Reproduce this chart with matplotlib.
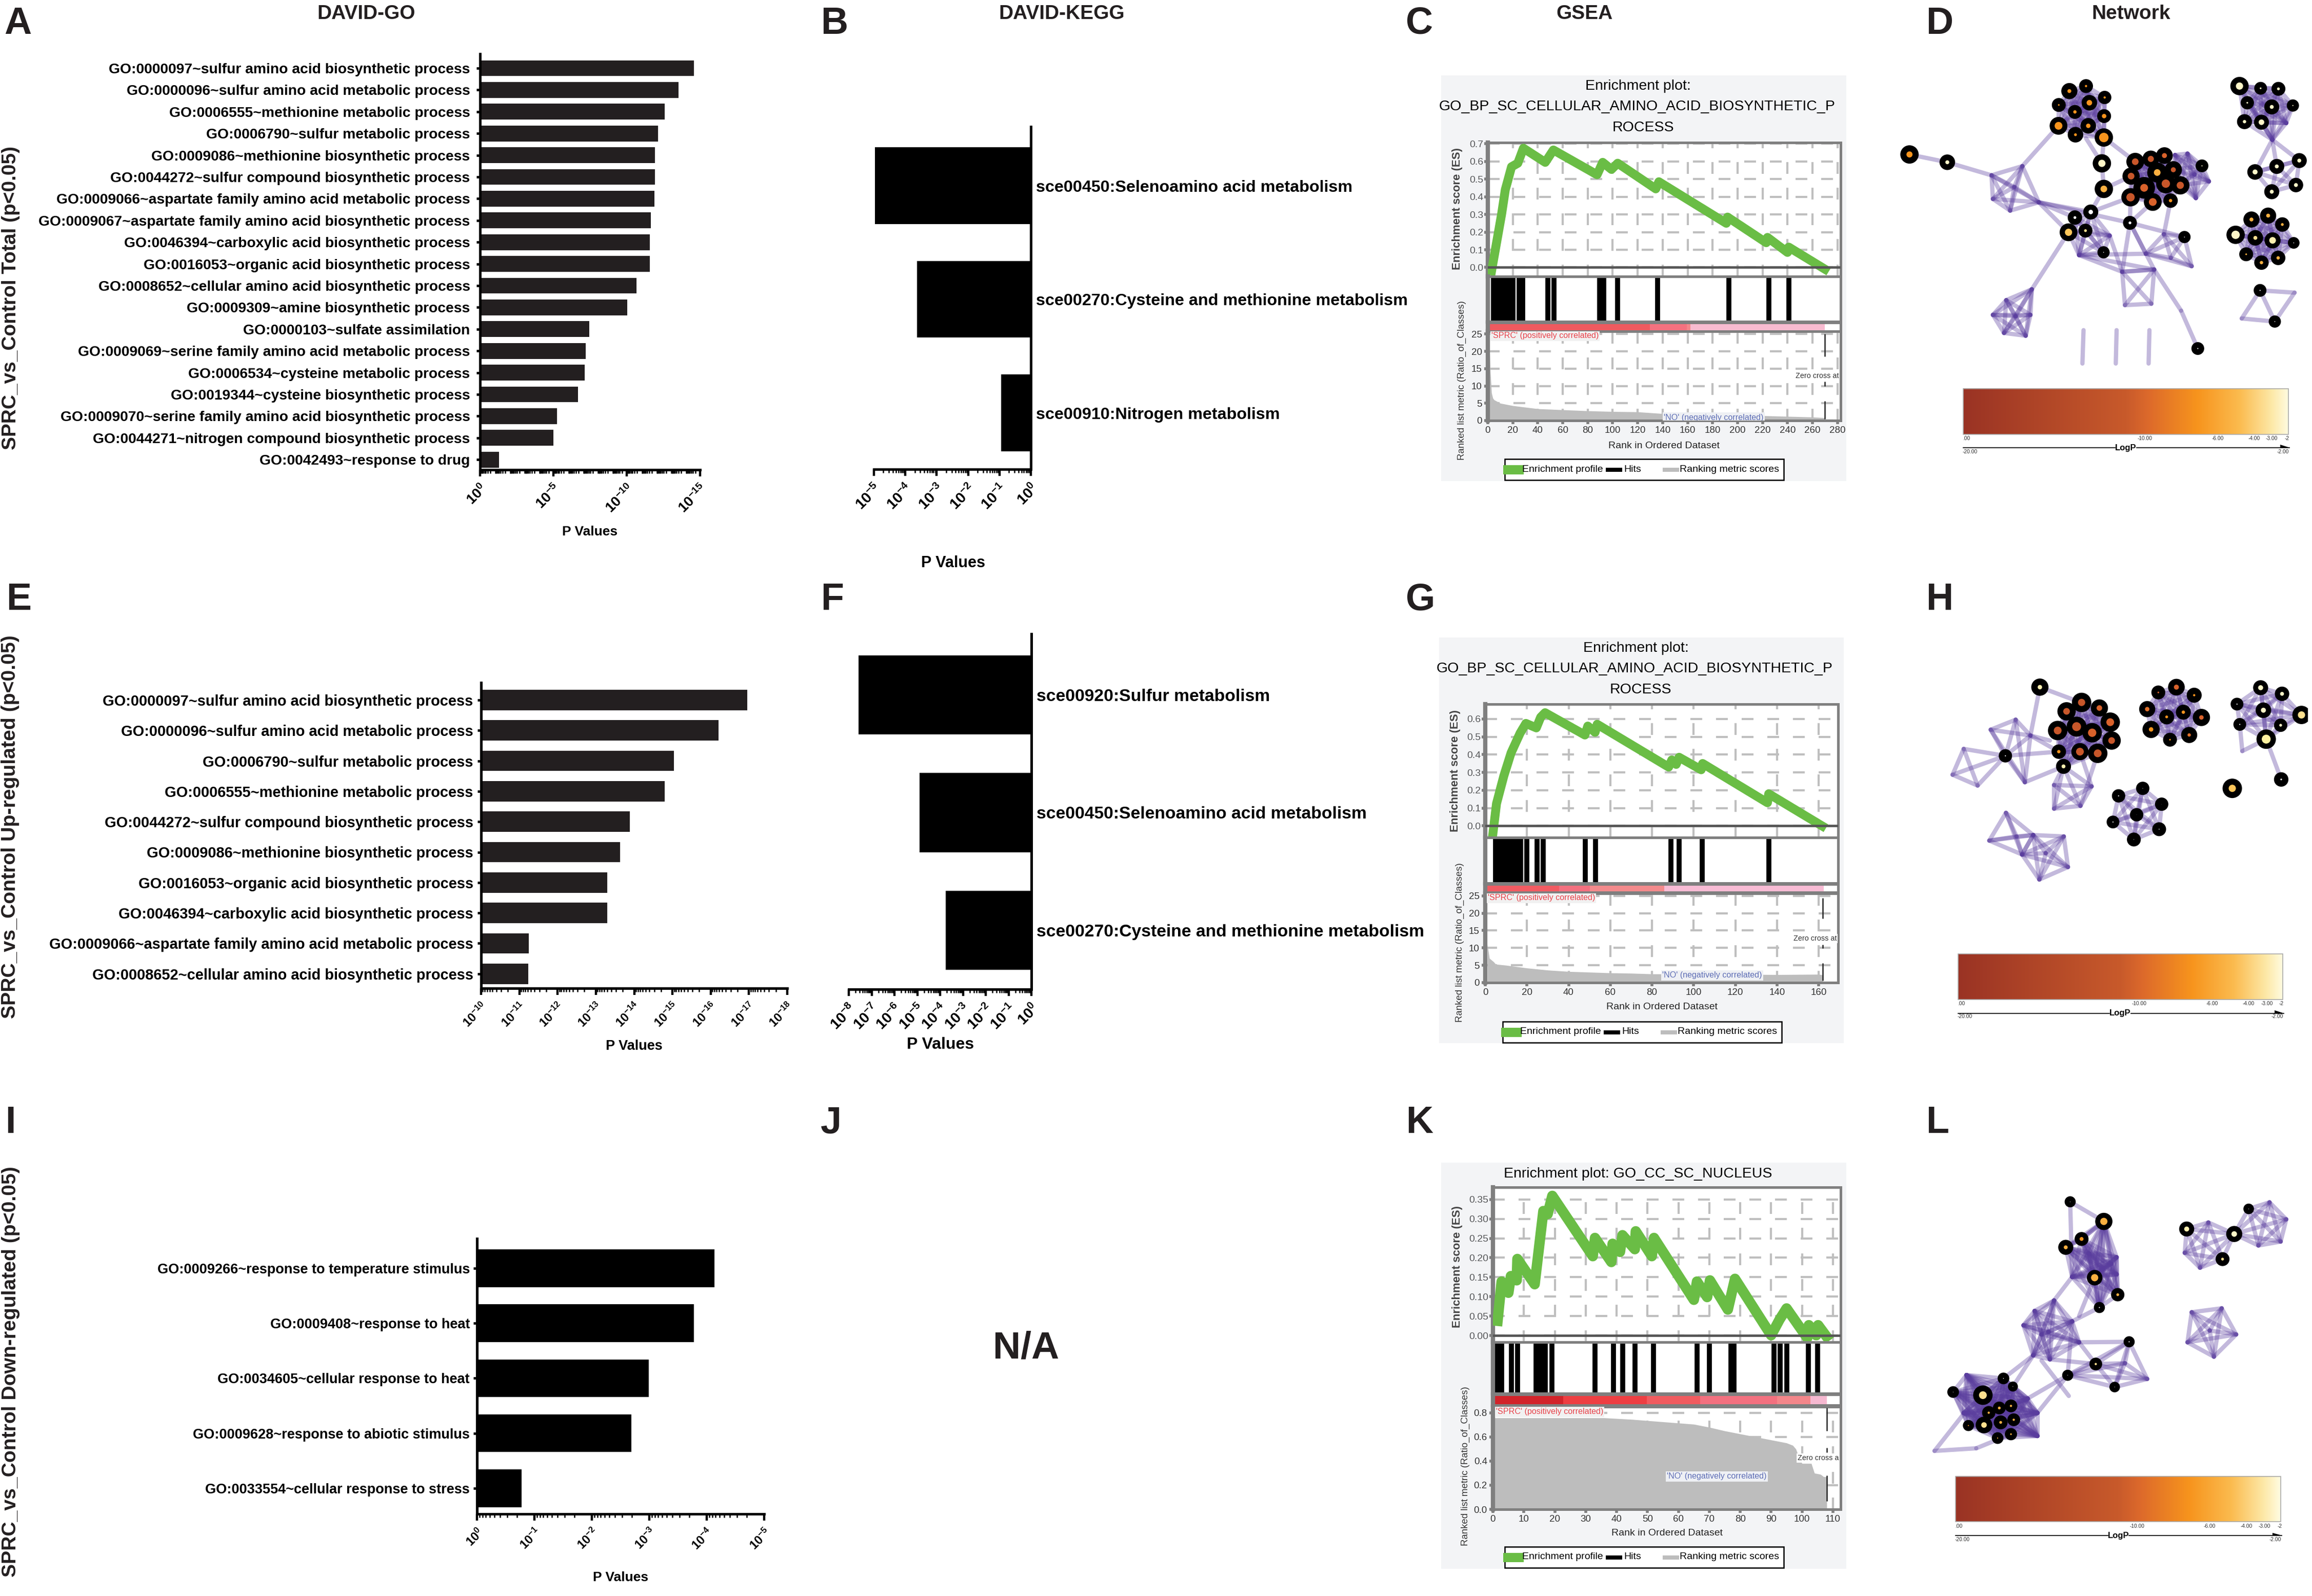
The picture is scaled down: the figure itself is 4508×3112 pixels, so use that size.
from itertools import combinations

import numpy as np
import matplotlib
matplotlib.use('Agg')
import matplotlib.pyplot as plt
from matplotlib.collections import LineCollection
from matplotlib.colors import LinearSegmentedColormap
from matplotlib.patches import Polygon, Rectangle
from matplotlib.ticker import LogLocator, NullFormatter

plt.rcParams['font.family'] = ['Liberation Sans', 'DejaVu Sans']
plt.rcParams['mathtext.fontset'] = 'custom'
plt.rcParams['mathtext.rm'] = 'Liberation Sans'
plt.rcParams['mathtext.bf'] = 'Liberation Sans:bold'
plt.rcParams['axes.unicode_minus'] = False

W, H = 4508, 3112
DARK = '#231f20'

# ---- DAVID-GO bars, values are the decades of the P value
go_total_terms = [
    'GO:0000097~sulfur amino acid biosynthetic process',
    'GO:0000096~sulfur amino acid metabolic process',
    'GO:0006555~methionine metabolic process',
    'GO:0006790~sulfur metabolic process',
    'GO:0009086~methionine biosynthetic process',
    'GO:0044272~sulfur compound biosynthetic process',
    'GO:0009066~aspartate family amino acid metabolic process',
    'GO:0009067~aspartate family amino acid biosynthetic process',
    'GO:0046394~carboxylic acid biosynthetic process',
    'GO:0016053~organic acid biosynthetic process',
    'GO:0008652~cellular amino acid biosynthetic process',
    'GO:0009309~amine biosynthetic process',
    'GO:0000103~sulfate assimilation',
    'GO:0009069~serine family amino acid metabolic process',
    'GO:0006534~cysteine metabolic process',
    'GO:0019344~cysteine biosynthetic process',
    'GO:0009070~serine family amino acid biosynthetic process',
    'GO:0044271~nitrogen compound biosynthetic process',
    'GO:0042493~response to drug',
]
go_total_exp = [14.58, 13.54, 12.6, 12.13, 11.92, 11.92, 11.89, 11.66, 11.59, 11.59,
                10.65, 10.04, 7.46, 7.19, 7.15, 6.68, 5.24, 5.0, 1.31]

go_up_terms = [
    'GO:0000097~sulfur amino acid biosynthetic process',
    'GO:0000096~sulfur amino acid metabolic process',
    'GO:0006790~sulfur metabolic process',
    'GO:0006555~methionine metabolic process',
    'GO:0044272~sulfur compound biosynthetic process',
    'GO:0009086~methionine biosynthetic process',
    'GO:0016053~organic acid biosynthetic process',
    'GO:0046394~carboxylic acid biosynthetic process',
    'GO:0009066~aspartate family amino acid metabolic process',
    'GO:0008652~cellular amino acid biosynthetic process',
]
go_up_exp = [16.96, 16.21, 15.04, 14.8, 13.89, 13.63, 13.29, 13.29, 11.25, 11.23]

go_down_terms = [
    'GO:0009266~response to temperature stimulus',
    'GO:0009408~response to heat',
    'GO:0034605~cellular response to heat',
    'GO:0009628~response to abiotic stimulus',
    'GO:0033554~cellular response to stress',
]
go_down_exp = [4.135, 3.78, 2.995, 2.69, 0.777]

# ---- DAVID-KEGG bars
kegg_total_terms = ['sce00450:Selenoamino acid metabolism',
                    'sce00270:Cysteine and methionine metabolism',
                    'sce00910:Nitrogen metabolism']
kegg_total_exp = [4.97, 3.63, 0.95]
kegg_up_terms = ['sce00920:Sulfur metabolism',
                 'sce00450:Selenoamino acid metabolism',
                 'sce00270:Cysteine and methionine metabolism']
kegg_up_exp = [7.57, 4.89, 3.75]

# ---- GSEA running scores, hits, ranked metric
c_es_rank = [3, 7, 11, 14, 19, 24, 28.5, 46, 52.5, 87.5, 92, 99, 104, 134.5, 137, 191, 192,
             223, 224, 240, 241, 270]
c_es = [-0.02, 0.14, 0.30, 0.44, 0.57, 0.59, 0.675, 0.595, 0.665, 0.525, 0.595, 0.555, 0.59,
        0.445, 0.485, 0.25, 0.285, 0.14, 0.17, 0.085, 0.115, -0.01]
c_hits = [4.6, 6, 8, 10, 12, 14, 16, 18, 20, 25, 28, 48, 53, 89.5, 93, 104, 136, 193, 225, 241]
c_strip_edges = [1, 130, 159.3, 162.2, 270]
c_strip_colors = ['#ef5a5f', '#f5717f', '#f4868a', '#f8bbd0']
c_metric_rank = [1, 2, 3, 4, 5, 10, 20, 40, 60, 80, 100, 120, 140, 160, 180, 200, 220, 240, 260, 270]
c_metric = [25, 14, 8, 6.5, 6, 5, 4.3, 3.4, 3.1, 2.8, 2.6, 2.5, 2.0, 1.8, 1.6, 1.5, 1.4, 1.2, 1.0, 0.8]
c_zero_segments = [(18.6, 25), (10, 11.3), (0.4, 5.6)]

g_es_rank = [3.7, 5.4, 8.9, 12.4, 16.7, 19.5, 24.5, 26.6, 28.7, 47.8, 49.2, 52.7, 53.7, 88, 89.5,
             91.6, 93, 103.6, 104.3, 135.4, 136, 161.6]
g_es = [-0.04, 0.125, 0.28, 0.41, 0.52, 0.575, 0.55, 0.61, 0.635, 0.51, 0.56, 0.525, 0.57, 0.33,
        0.37, 0.345, 0.385, 0.315, 0.35, 0.13, 0.18, 0.0]
g_hits = [4.9, 6, 7.2, 8.4, 9.6, 10.8, 12, 13.2, 14.4, 15.6, 16.9, 19.9, 24.9, 27.8, 48, 52.9,
          89.1, 93, 104, 136.2]
g_strip_edges = [0.5, 35.5, 50.2, 86, 162.3]
g_strip_colors = ['#f25b62', '#f4707f', '#f48a8c', '#f8bbd4']
g_metric_rank = [1, 2, 3, 4, 5, 10, 20, 30, 40, 50, 60, 70, 80, 100, 120, 140, 160, 162]
g_metric = [11, 7, 6.5, 6, 5.3, 5, 4.2, 3.6, 3.2, 3, 2.8, 2.7, 2.5, 2.5, 2.4, 2.3, 2.4, 2.2]
g_zero_segments = [(18.5, 24.4), (9.9, 11), (0.6, 5.6)]

k_es_rank = [1.5, 2.8, 5, 5.8, 7.7, 7.9, 13.5, 16.3, 17.7, 19.2, 32.3, 33, 38.3, 38.7, 41.1, 41.9,
             45.9, 46.2, 51.4, 52.1, 65, 66, 69.3, 70.2, 76, 78.3, 90, 92.7, 95, 101.7, 102.2,
             104.6, 105.2, 107.9]
k_es = [0.038, 0.139, 0.11, 0.153, 0.142, 0.197, 0.132, 0.32, 0.312, 0.359, 0.204, 0.251, 0.189,
        0.236, 0.215, 0.258, 0.222, 0.268, 0.204, 0.251, 0.092, 0.139, 0.099, 0.142, 0.067, 0.146,
        0.001, 0.041, 0.07, -0.006, 0.027, 0.001, 0.027, -0.002]
k_hits = [0.7, 2.2, 2.9, 6, 8, 14, 15, 16, 17, 19, 33, 39, 42, 46, 52, 66, 70, 77, 78, 91, 93, 95,
          102, 105]
k_strip_edges = [0.3, 22.7, 49.7, 67, 91.9, 102.7, 108.1]
k_strip_colors = ['#d2232a', '#ee3e42', '#f15b5f', '#f3707f', '#f4868a', '#f6b8d0']
k_metric_rank = [0, 36, 45, 55, 65, 70, 75, 80, 85, 90, 95, 97, 98, 99, 100, 103, 104, 106, 107, 108, 108]
k_metric = [0.758, 0.758, 0.745, 0.725, 0.705, 0.68, 0.65, 0.625, 0.6, 0.575, 0.55, 0.53, 0.5, 0.43,
            0.38, 0.38, 0.3, 0.29, 0.27, 0.27, 0.0]
k_zero_segments = [(0.65, 0.84), (0.47, 0.51), (0.07, 0.28)]

# ---- Networks: (x, y, outer diameter, core diameter, core colour)
WH = '#ffffff'
PALE = '#fdf6c8'
CREAM = '#fde08f'
GOLD = '#fbb040'
ORG = '#f7941d'
RUST = '#c8572a'
ROST = '#d9622b'

d_top = [(710, 180, 58, 14, ORG), (770, 162, 50, 8, ORG), (837, 203, 48, 8, ORG), (672, 230, 50, 6, ORG),
         (782, 222, 56, 20, ORG), (730, 255, 50, 12, ORG), (835, 270, 50, 16, ORG), (671, 305, 64, 28, ORG),
         (778, 305, 56, 16, ORG), (732, 337, 56, 10, ORG), (834, 347, 66, 34, ORG)]
d_center = [(947, 434, 64, 24, RUST), (1003, 424, 60, 22, RUST), (1052, 412, 60, 18, ROST), (1084, 463, 62, 18, RUST),
            (1026, 473, 72, 24, GOLD), (932, 486, 62, 24, RUST), (1057, 513, 70, 30, RUST), (1109, 519, 66, 26, RUST),
            (979, 528, 78, 28, ROST), (930, 562, 66, 30, RUST), (1010, 579, 64, 28, ROST), (1074, 574, 52, 12, ORG)]
d_center_hidden = [(1135, 405), (1212, 505), (1165, 565), (1090, 410), (1187, 449), (1160, 480), (1084, 463), (1109, 519)]
d_mid = [(787, 615, 54, 16, WH), (730, 635, 52, 10, WH), (707, 688, 64, 26, '#fdc65a'), (768, 682, 50, 10, CREAM),
         (833, 760, 44, 3, WH)]
d_mid_hidden = [(745, 770), (855, 700)]
d_single = [(827, 440, 66, 26, PALE), (834, 532, 66, 24, GOLD), (928, 654, 50, 10, WH), (1124, 705, 44, 3, WH),
            (1172, 1106, 46, 4, WH), (135, 408, 66, 22, ORG), (271, 436, 56, 14, PALE), (1187, 449, 46, 4, PALE),
            (1396, 897, 46, 4, WH), (1449, 1009, 44, 3, WH)]
d_right_a = [(1322, 162, 66, 26, PALE), (1398, 170, 46, 6, PALE), (1462, 172, 50, 10, PALE), (1350, 222, 48, 6, PALE),
             (1438, 237, 54, 14, PALE), (1514, 232, 44, 4, PALE), (1340, 290, 54, 12, PALE), (1401, 292, 54, 20, PALE)]
d_right_a_hidden = [(1440, 355), (1490, 295)]
d_right_b = [(1378, 471, 56, 18, PALE), (1456, 451, 54, 14, PALE), (1537, 430, 54, 14, PALE),
             (1525, 518, 52, 14, PALE), (1438, 542, 54, 14, PALE)]
d_right_c = [(1425, 628, 58, 14, GOLD), (1365, 642, 58, 14, GOLD), (1476, 660, 52, 10, GOLD), (1308, 697, 66, 30, PALE),
             (1379, 708, 56, 14, CREAM), (1441, 717, 58, 24, '#fdf0b0'), (1517, 726, 42, 3, WH), (1346, 767, 50, 6, GOLD),
             (1461, 780, 52, 12, GOLD), (1401, 797, 52, 12, GOLD)]
d_vertices = [
    [(430, 483), (541, 450), (512, 525), (435, 568), (497, 610), (600, 580)],
    [(575, 893), (483, 932), (435, 985), (517, 990), (570, 985), (475, 1050), (553, 1060)],
    [(745, 770), (900, 830), (1015, 822)],
    [(985, 765), (1050, 695), (1150, 810), (1124, 705), (1075, 780)],
    [(900, 830), (1015, 822), (910, 950), (1005, 945)],
]
d_links = [((135, 408), (271, 436)), ((271, 436), (430, 483)), ((541, 450), (671, 305)), ((707, 688), (575, 893)),
           ((1015, 822), (1112, 970)), ((1112, 970), (1172, 1106)), ((600, 580), (707, 688)), ((600, 580), (928, 654)),
           ((600, 580), (730, 635)), ((600, 580), (787, 615)), ((834, 347), (947, 434)), ((827, 440), (834, 347)),
           ((770, 350), (827, 440)), ((787, 615), (834, 532)), ((827, 440), (834, 532)), ((834, 532), (932, 486)),
           ((928, 654), (930, 562)), ((928, 654), (1010, 579)), ((928, 654), (1124, 705)), ((928, 654), (900, 830)),
           ((928, 654), (1015, 822)), ((928, 654), (985, 765)), ((787, 615), (930, 562)), ((1050, 695), (1074, 574)),
           ((745, 770), (985, 765)), ((855, 700), (900, 830)), ((761, 1040), (757, 1160)), ((880, 1040), (877, 1160)),
           ((998, 1040), (995, 1160)), ((1396, 897), (1520, 905)), ((1520, 905), (1449, 1009)), ((1396, 897), (1330, 998)),
           ((1330, 998), (1449, 1009)), ((1396, 897), (1449, 1009)), ((1440, 355), (1378, 471)), ((1440, 355), (1456, 451)),
           ((1440, 355), (1537, 430))]

h_big = [(754, 313, 70, 26, RUST), (700, 345, 66, 24, RUST), (818, 333, 62, 20, ROST), (857, 384, 70, 28, ROST),
         (668, 414, 70, 28, RUST), (736, 400, 72, 32, RUST), (792, 422, 70, 30, ROST), (862, 450, 66, 24, RUST),
         (748, 490, 62, 28, RUST), (812, 496, 70, 28, RUST), (672, 490, 52, 12, ORG), (689, 543, 54, 14, '#fdf0b0')]
h_second = [(1095, 258, 60, 18, ROST), (1030, 277, 50, 6, ROST), (1159, 287, 54, 8, ORG), (990, 337, 58, 16, '#e0702b'),
            (1060, 365, 54, 10, ORG), (1120, 348, 54, 12, ORG), (1185, 367, 62, 16, ROST), (1004, 410, 62, 16, ORG),
            (1072, 447, 50, 6, ORG), (1141, 430, 58, 12, '#e0702b')]
h_third = [(1398, 260, 54, 18, PALE), (1475, 282, 52, 14, PALE), (1313, 319, 46, 4, WH), (1408, 341, 56, 18, PALE),
           (1545, 358, 66, 26, CREAM), (1323, 392, 46, 4, WH), (1470, 395, 48, 10, PALE), (1418, 445, 70, 32, '#fdf0a0')]
h_lower = [(887, 649, 48, 4, WH), (974, 622, 48, 2, WH), (1042, 679, 48, 1, WH), (952, 717, 48, 1, WH),
           (867, 743, 46, 4, WH), (1033, 769, 50, 3, WH), (942, 806, 50, 2, WH)]
h_single = [(604, 258, 62, 16, '#fdf0b0'), (480, 505, 48, 4, WH), (1472, 590, 52, 6, WH), (1296, 622, 70, 26, '#fdc65a')]
h_vertices = [
    [(427, 411), (517, 375), (570, 432), (480, 505), (550, 600)],
    [(330, 480), (290, 573), (380, 612), (480, 505)],
    [(655, 610), (790, 615), (655, 695), (750, 685), (689, 543)],
    [(482, 710), (422, 810), (520, 795), (540, 860), (580, 790)],
    [(580, 790), (690, 795), (540, 860), (625, 855), (705, 905), (602, 950)],
]
h_links = [((604, 258), (730, 305)), ((604, 258), (570, 432)), ((480, 505), (672, 490)), ((570, 432), (672, 490)),
           ((550, 600), (689, 543)), ((750, 685), (812, 496)), ((790, 615), (748, 490)), ((1418, 445), (1472, 590)),
           ((1332, 488), (1323, 392)), ((1332, 488), (1418, 445)), ((570, 432), (640, 450))]

l_top = [(834, 258, 62, 26, GOLD), (754, 325, 50, 14, ORG), (697, 357, 54, 14, GOLD), (801, 473, 56, 26, GOLD),
         (884, 538, 48, 10, GOLD), (818, 587, 40, 4, WH)]
l_top_hidden = [(720, 470), (780, 380), (880, 395), (880, 460), (800, 460), (860, 420), (830, 440)]
l_low = [(473, 858, 42, 3, WH), (507, 889, 36, 2, WH), (292, 910, 42, 2, WH), (399, 922, 70, 28, CREAM),
         (500, 963, 46, 8, GOLD), (458, 971, 46, 10, GOLD), (420, 989, 48, 8, GOLD), (510, 1016, 46, 8, GOLD),
         (347, 1038, 40, 4, ORG), (403, 1036, 60, 20, CREAM), (463, 1026, 50, 10, GOLD), (500, 1071, 44, 6, GOLD),
         (452, 1086, 42, 4, GOLD)]
l_low_hidden = [(595, 990), (595, 1078), (340, 845), (330, 990), (560, 935)]
l_side = [(925, 718, 40, 4, WH), (805, 803, 46, 8, CREAM), (873, 891, 38, 2, WH), (704, 846, 40, 2, WH)]
l_side_hidden = [(990, 860), (910, 800)]
l_single = [(1132, 287, 54, 18, '#fdf0b0'), (1303, 306, 58, 20, PALE), (1355, 210, 38, 2, WH), (1261, 402, 50, 10, CREAM),
            (713, 183, 40, 2, WH)]
l_vertices = [
    [(585, 600), (545, 655), (655, 560), (720, 640), (745, 720), (580, 770), (640, 785), (635, 680), (610, 690)],
    [(1132, 287), (1210, 262), (1303, 306), (1125, 378), (1180, 435), (1261, 402)],
    [(1303, 306), (1355, 210), (1430, 185), (1490, 250), (1470, 335), (1390, 350)],
    [(1150, 605), (1258, 590), (1310, 690), (1230, 775), (1135, 720), (1215, 675)],
]
l_links = [((713, 183), (834, 258)), ((713, 183), (720, 470)), ((834, 258), (754, 325)), ((834, 258), (800, 400)),
           ((754, 325), (697, 357)), ((720, 470), (655, 560)), ((818, 587), (720, 640)), ((801, 473), (745, 620)),
           ((745, 720), (925, 718)), ((745, 720), (805, 803)), ((640, 785), (805, 803)), ((720, 640), (704, 846)),
           ((580, 770), (507, 889)), ((580, 770), (473, 858)), ((610, 790), (708, 925)), ((704, 846), (560, 935)),
           ((704, 846), (595, 990)), ((375, 1125), (225, 1135)), ((225, 1135), (340, 980)), ((375, 1125), (500, 1071))]

cbar_ticks = ['.00', '-10.00', '-6.00', '-4.00', '-3.00', '-2']
cbar_stops = [(0.0, '#9a3324'), (0.5, '#c85a2b'), (0.57, '#dd6a2b'), (0.72, '#f7941d'),
              (0.85, '#fbbb4f'), (0.95, '#fde9a8'), (1.0, '#fffbe0')]


def px_axes(x0, y0, x1, y1, **kw):
    return plt.gcf().add_axes([x0 / W, 1 - y1 / H, (x1 - x0) / W, (y1 - y0) / H], **kw)


def txt(x, y, s, **kw):
    kw.setdefault('ha', 'center')
    kw.setdefault('va', 'center')
    return plt.gcf().text(x / W, 1 - y / H, s, **kw)


def rect(x, y, w, h, **kw):
    r = Rectangle((x / W, 1 - (y + h) / H), w / W, h / H, transform=plt.gcf().transFigure, **kw)
    plt.gcf().add_artist(r)


def log_bars(box, terms, exps, base_exp, tick_exps, xlim_exp, y_first, y_step, bar_h, size, tick_size,
             color, pad, side='left'):
    x0, y0, x1, y1 = box
    ax = px_axes(x0, y0, x1, y1)
    pos = np.arange(len(terms))
    base = 10.0 ** -base_exp
    ax.set_xscale('log')
    ax.barh(pos, 10.0 ** -np.array(exps) - base, left=base, height=bar_h, color=color, linewidth=0)
    ax.set_xlim(10.0 ** -xlim_exp[0], 10.0 ** -xlim_exp[1])
    ax.set_ylim((y1 - y_first) / y_step, (y0 - y_first) / y_step)
    ax.set_yticks(pos, terms, fontsize=size, fontweight='bold', color='black')
    ax.set_xticks([10.0 ** -e for e in tick_exps],
                  [r'$\mathbf{10^{%d}}$' % -e for e in tick_exps],
                  rotation=45, ha='right', va='top', rotation_mode='anchor', fontsize=tick_size)
    ax.xaxis.set_minor_locator(LogLocator(base=10, subs=range(2, 10), numticks=200))
    ax.xaxis.set_minor_formatter(NullFormatter())
    ax.tick_params(axis='x', which='major', length=9, width=3.2, pad=8)
    ax.tick_params(axis='x', which='minor', length=5, width=1.8)
    for s in ax.spines.values():
        s.set_linewidth(3.6)
    ax.spines['top'].set_visible(False)
    if side == 'left':
        ax.spines['right'].set_visible(False)
        ax.tick_params(axis='y', length=5, width=3.4, pad=pad)
    else:
        ax.spines['left'].set_visible(False)
        ax.yaxis.tick_right()
        ax.tick_params(axis='y', length=0, pad=pad)
    ax.set_facecolor('none')
    return ax


def dashed_grid(ax, xt, yt):
    for v in xt:
        ax.axvline(v, color='#bfbfbf', lw=3, ls=(0, (5.5, 6.5)), zorder=1)
    for v in yt:
        ax.axhline(v, color='#bfbfbf', lw=3, ls=(0, (5.5, 6.5)), zorder=1)


def gsea_panel(bg, x_box, rows, xmax, x_ticks, es_lim, es_ticks, es_rank, es, es_lw, hits, strip_edges, strip_colors,
               metric_rank, metric, metric_lim, metric_ticks, zero_rank, zero_segments):
    rect(bg[0], bg[1], bg[2] - bg[0], bg[3] - bg[1], facecolor='#f3f4f6', edgecolor='none', zorder=-1)
    gray = '#7f7f7f'
    axs = [px_axes(x_box[0], r[0], x_box[1], r[1]) for r in rows]
    for ax in axs:
        ax.set_xlim(0, xmax)
        for s in ax.spines.values():
            s.set_color(gray)
            s.set_linewidth(3.6)
        ax.spines['left'].set_linewidth(6)
        ax.set_xticks([])
        ax.set_yticks([])
    es_ax, hit_ax, strip_ax, rank_ax = axs

    dashed_grid(es_ax, x_ticks, es_ticks)
    es_ax.set_ylim(*es_lim)
    es_ax.axhline(0, color='#555555', lw=3.4, zorder=4)
    es_ax.plot(es_rank, es, color='#6abd45', lw=es_lw, solid_joinstyle='round', zorder=3)
    es_ax.set_yticks(es_ticks, ['%.2f' % v if es_ticks[1] < 0.1 else '%.1f' % v for v in es_ticks],
                     fontsize=14, color='#58595b')
    es_ax.tick_params(axis='y', length=5, width=4, color=gray, pad=1)

    hit_ax.vlines(hits, 0, 1, color='black', lw=7)
    hit_ax.set_ylim(0, 1)

    strip_ax.barh(0, np.diff(strip_edges), left=strip_edges[:-1], height=1, color=strip_colors, linewidth=0)
    strip_ax.set_ylim(-0.5, 0.5)

    dashed_grid(rank_ax, x_ticks, metric_ticks)
    rank_ax.fill_between(metric_rank, metric, color='#bdbdbd', linewidth=0, zorder=2)
    rank_ax.set_ylim(*metric_lim)
    for lo, hi in zero_segments:
        rank_ax.vlines(zero_rank, lo, hi, color='#222222', lw=1.8, zorder=3)
    rank_ax.set_xticks(x_ticks, [str(v) for v in x_ticks], fontsize=13.5, color='#333333')
    rank_ax.set_yticks(metric_ticks, [('%.1f' if metric_ticks[1] < 1 else '%d') % v for v in metric_ticks],
                       fontsize=13.5, color='#333333')
    rank_ax.tick_params(axis='both', length=5, width=4, color=gray, pad=3)
    return rank_ax


def gsea_text(rank_ax, title_lines, es_label, rank_label, xlabel, zero, zero_txt, sprc, no, legend):
    for x, y, s in title_lines:
        txt(x, y, s, fontsize=20.5, color='black')
    txt(*es_label, 'Enrichment score (ES)', rotation=90, fontsize=16, fontweight='bold', color='#444444')
    txt(*rank_label, 'Ranked list metric (Ratio_of_Classes)', rotation=90, fontsize=13.4, color='#333333')
    txt(*xlabel, 'Rank in Ordered Dataset', fontsize=14, color='#222222')
    fig = plt.gcf()
    rank_ax.text(zero[0] / W, 1 - zero[1] / H, zero_txt, transform=fig.transFigure, fontsize=10.4, color='#333333',
                 ha='center', va='center', zorder=5, clip_on=True,
                 bbox=dict(facecolor='white', edgecolor='none', pad=1.5))
    rank_ax.text(sprc[0] / W, 1 - sprc[1] / H, "'SPRC' (positively correlated)", transform=fig.transFigure,
                 fontsize=11.6, color='#e8424a', ha='left', va='center', zorder=5, clip_on=True,
                 bbox=dict(facecolor='#f1f1f1', edgecolor='none', pad=1.5))
    rank_ax.text(no[0] / W, 1 - no[1] / H, "'NO' (negatively correlated)", transform=fig.transFigure,
                 fontsize=11.6, color='#5d6db5', ha='left', va='center', zorder=5, clip_on=True,
                 bbox=dict(facecolor='#eef0f4', edgecolor='none', pad=1.5))
    x, y = legend
    rect(x, y, 544, 41, facecolor='white', edgecolor='black', linewidth=1.8, zorder=5)
    rect(x - 3, y + 12, 40, 18, facecolor='#6abd45', edgecolor='none', zorder=6)
    txt(x + 34, y + 20, 'Enrichment profile', ha='left', fontsize=14, zorder=7)
    rect(x + 197, y + 17, 32, 8, facecolor='black', edgecolor='none', zorder=6)
    txt(x + 232, y + 20, 'Hits', ha='left', fontsize=14, zorder=7)
    rect(x + 308, y + 17, 32, 8, facecolor='#bdbdbd', edgecolor='none', zorder=6)
    txt(x + 341, y + 20, 'Ranking metric scores', ha='left', fontsize=14, zorder=7)


def node_diam(d):
    return (d / 1.845 * 0.72) ** 2


def draw_network(box, groups, links, singles, lw=6.0):
    ax = px_axes(*box)
    segs = []
    for g in groups:
        pts = [(p[0], p[1]) for p in g]
        segs.extend(combinations(pts, 2))
    segs.extend(links)
    ax.add_collection(LineCollection(segs, colors='#5a3d9e', linewidths=lw, alpha=0.36, capstyle='round', zorder=1))
    for g in groups + [singles]:
        nodes = [p for p in g if len(p) == 5]
        if not nodes:
            continue
        xs = [p[0] for p in nodes]
        ys = [p[1] for p in nodes]
        ax.scatter(xs, ys, s=[node_diam(p[2]) for p in nodes], color='black', linewidths=0, zorder=2)
        ax.scatter(xs, ys, s=[node_diam(p[3]) for p in nodes], c=[p[4] for p in nodes], linewidths=0, zorder=3)
    ax.set_xlim(0, 1568)
    ax.set_ylim(1568, 0)
    ax.axis('off')
    return ax


def draw_logp_bar(ax, x0, x1, y0, y1, tick_x, tick_y, line_y, label_x, low_y):
    cmap = LinearSegmentedColormap.from_list('logp', cbar_stops)
    ax.imshow(np.linspace(0, 1, 512)[None, :], extent=(x0, x1, y1, y0), aspect='auto', cmap=cmap, zorder=1)
    ax.add_patch(Rectangle((x0, y0), x1 - x0, y1 - y0, fill=False, edgecolor='#aaaaaa', lw=1.2, zorder=2))
    ax.plot([x0, label_x - 38], [line_y, line_y], color='black', lw=1.2)
    ax.plot([label_x + 38, x1 + 4], [line_y, line_y], color='black', lw=1.2)
    ax.add_patch(Polygon([(x1 - 30, line_y - 11), (x1 - 30, line_y), (x1 + 5, line_y)], color='black', lw=0))
    for x, s in zip(tick_x, cbar_ticks):
        ax.text(x, tick_y, s, ha='center', va='center', fontsize=7.4, color='#333333')
    ax.text(label_x, line_y, 'LogP', ha='center', va='center', fontsize=12, fontweight='bold', color='black')
    ax.text(x0 + 24, low_y, '-20.00', ha='center', va='center', fontsize=7.4, color='#333333')
    ax.text(x1 - 20, low_y, '-2.00', ha='center', va='center', fontsize=7.4, color='#333333')
    ax.set_xlim(0, 1568)
    ax.set_ylim(1568, 0)


fig = plt.figure(figsize=(W / 100, H / 100), dpi=100, facecolor='white')

# column titles, panel letters, row labels
for x, s in [(714, 'DAVID-GO'), (2070, 'DAVID-KEGG'), (3090, 'GSEA'), (4155, 'Network')]:
    txt(x, 27, s, fontsize=28, fontweight='bold', color=DARK)
for x, y, s in [(8, 66, 'A'), (1600, 66, 'B'), (2741, 66, 'C'), (3755, 66, 'D'),
                (12, 1189, 'E'), (1600, 1189, 'F'), (2741, 1189, 'G'), (3755, 1189, 'H'),
                (10, 2209, 'I'), (1600, 2209, 'J'), (2741, 2209, 'K'), (3755, 2209, 'L')]:
    txt(x, y, s, ha='left', va='baseline', fontsize=53, fontweight='bold', color=DARK)
txt(21, 581, 'SPRC_vs_Control Total (p<0.05)', rotation=90, fontsize=28, fontweight='bold', color=DARK)
txt(20, 1612, 'SPRC_vs_Control Up-regulated (p<0.05)', rotation=90, fontsize=28.3, fontweight='bold', color=DARK)
txt(21, 2675, 'SPRC_vs_Control Down-regulated (p<0.05)', rotation=90, fontsize=28.2, fontweight='bold', color=DARK)
txt(2001, 2629, 'N/A', fontsize=54, fontweight='bold', color=DARK)

# bar panels
log_bars((936, 105, 1365, 916), go_total_terms, go_total_exp, 0, [0, 5, 10, 15], (0, 15),
         133, 42.4, 0.73, 20.3, 20, DARK, 9)
log_bars((1704, 247, 2010, 915), kegg_total_terms, kegg_total_exp, 0, [5, 4, 3, 2, 1, 0], (5, 0),
         362, 221.5, 0.677, 23.2, 21, 'black', 7, side='right')
log_bars((938, 1331, 1535, 1927), go_up_terms, go_up_exp, 10, list(range(10, 19)), (10, 18),
         1365, 59.3, 0.67, 20.9, 17, DARK, 6)
log_bars((1655, 1236, 2011, 1929), kegg_up_terms, kegg_up_exp, 0, [8, 7, 6, 5, 4, 3, 2, 1, 0], (8, 0),
         1355, 229.5, 0.675, 24.2, 21, 'black', 7, side='right')
log_bars((930, 2415, 1490, 2952), go_down_terms, go_down_exp, 0, [0, 1, 2, 3, 4, 5], (0, 5),
         2473, 107.2, 0.686, 19.5, 17, 'black', 5)
for x, y, size in [(1150, 1037, 19), (1858, 1098, 22), (1236, 2040, 19.5), (1834, 2037, 23), (1210, 3076, 19)]:
    txt(x, y, 'P Values', fontsize=size, fontweight='bold', color='black')

# GSEA panels
rank_c = gsea_panel((2810, 147, 3600, 938), (2901, 3589),
                    [(278, 539), (539, 627), (629, 646), (646, 820)], 282.6, list(range(0, 281, 20)),
                    (-0.051, 0.707), [0.0, 0.1, 0.2, 0.3, 0.4, 0.5, 0.6, 0.7], c_es_rank, c_es, 12.5, c_hits,
                    c_strip_edges, c_strip_colors, c_metric_rank, c_metric, (0, 25.8), [0, 5, 10, 15, 20, 25],
                    270, c_zero_segments)
gsea_text(rank_c, [(3194, 168, 'Enrichment plot:'), (3192, 208, 'GO_BP_SC_CELLULAR_AMINO_ACID_BIOSYNTHETIC_P'),
                   (3204, 249, 'ROCESS')],
          (2842, 407), (2850, 742), (3244, 870), (3543, 733), 'Zero cross at', (2908, 655), (3244, 814), (2934, 895))

rank_g = gsea_panel((2806, 1243, 3595, 2034), (2896, 3584),
                    [(1373, 1633), (1633, 1722), (1724, 1740), (1742, 1916)], 169.3, list(range(0, 161, 20)),
                    (-0.065, 0.683), [0.0, 0.1, 0.2, 0.3, 0.4, 0.5, 0.6], g_es_rank, g_es, 12.5, g_hits,
                    g_strip_edges, g_strip_colors, g_metric_rank, g_metric, (0, 25.7), [0, 5, 10, 15, 20, 25],
                    162, g_zero_segments)
gsea_text(rank_g, [(3190, 1264, 'Enrichment plot:'), (3187, 1304, 'GO_BP_SC_CELLULAR_AMINO_ACID_BIOSYNTHETIC_P'),
                   (3199, 1345, 'ROCESS')],
          (2838, 1503), (2846, 1838), (3240, 1964), (3539, 1830), 'Zero cross at', (2901, 1751), (3241, 1902), (2930, 1992))

rank_k = gsea_panel((2810, 2267, 3600, 3059), (2911, 3589),
                    [(2315, 2617), (2617, 2717), (2719, 2740), (2743, 2943)], 112.5, list(range(0, 111, 10)),
                    (-0.0166, 0.381), [0.0, 0.05, 0.1, 0.15, 0.2, 0.25, 0.3, 0.35], k_es_rank, k_es, 14.5, k_hits,
                    k_strip_edges, k_strip_colors, k_metric_rank, k_metric, (0, 0.85), [0.0, 0.2, 0.4, 0.6, 0.8],
                    108, k_zero_segments)
gsea_text(rank_k, [(3194, 2289, 'Enrichment plot: GO_CC_SC_NUCLEUS')],
          (2842, 2470), (2857, 2859), (3250, 2990), (3545, 2843), 'Zero cross a', (2917, 2753), (3250, 2879), (2934, 3016))

# networks
ax_d = draw_network((3650, 80, 4500, 930),
                    [d_top, d_center, d_center_hidden, d_mid + d_mid_hidden,
                     d_right_a + d_right_a_hidden, d_right_b, d_right_c] + d_vertices, d_links, d_single)
draw_logp_bar(ax_d, 328, 1498, 1250, 1415, [340, 982, 1243, 1375, 1438, 1493], 1430, 1463, 913, 1478)

ax_h = draw_network((3650, 1200, 4500, 2050),
                    [h_big, h_second, h_third, h_lower] + h_vertices, h_links, h_single)
draw_logp_bar(ax_h, 310, 1478, 1218, 1382, [322, 962, 1224, 1354, 1420, 1473], 1397, 1431, 893, 1443)

ax_l = draw_network((3650, 2250, 4500, 3050),
                    [l_top + l_top_hidden, l_low + l_low_hidden, l_side + l_side_hidden] + l_vertices, l_links, l_single)
draw_logp_bar(ax_l, 301, 1470, 1233, 1406, [313, 954, 1215, 1347, 1412, 1466], 1423, 1459, 887, 1473)

fig.savefig('out.png', dpi=100, facecolor='white')
